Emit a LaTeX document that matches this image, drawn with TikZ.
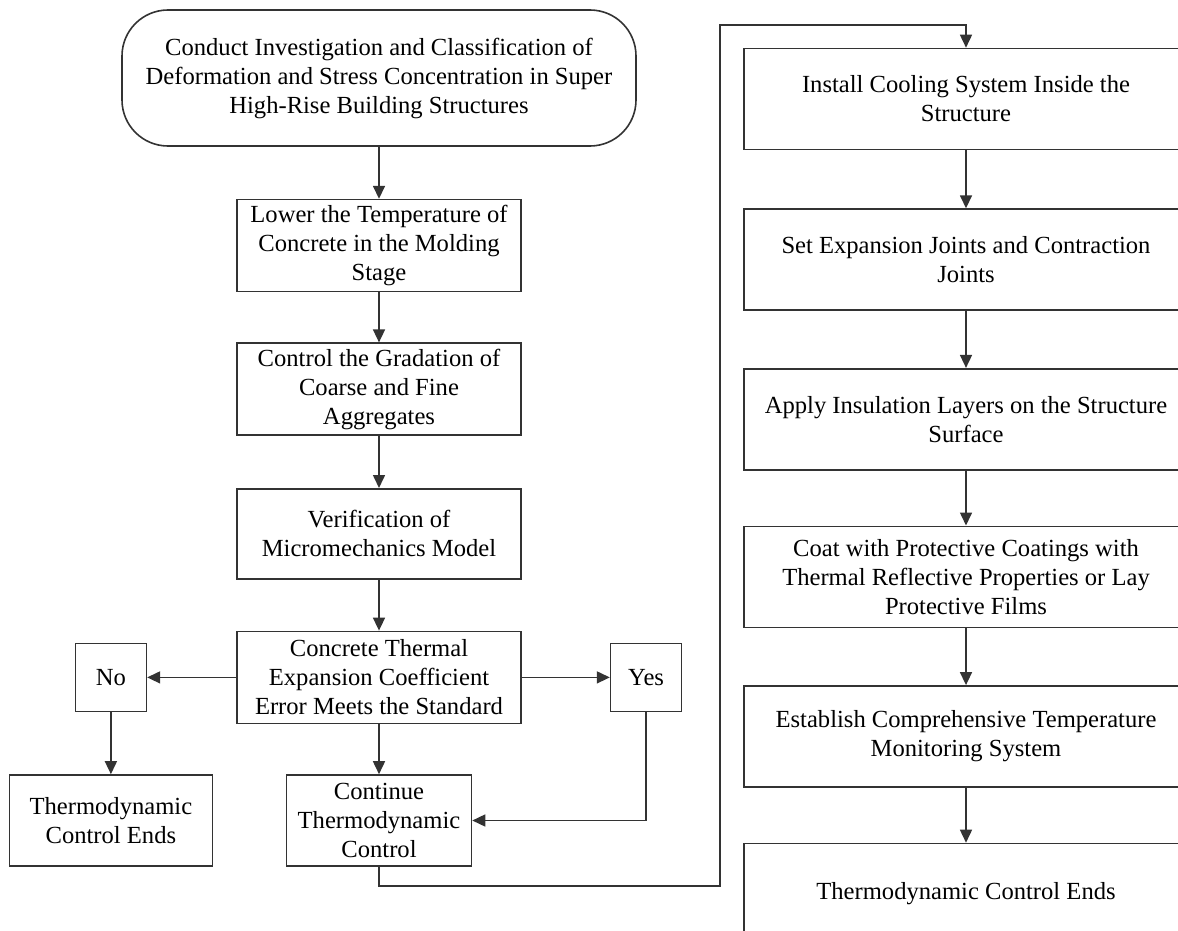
\documentclass[tikz,border=0pt]{standalone}
\usepackage{fontspec}
\setmainfont{Liberation Serif}
\usetikzlibrary{positioning, arrows.meta}

\begin{document}
\begin{tikzpicture}[
  x=1pt, y=1pt,
  font=\fontsize{12.3}{14.5}\selectfont,
  box/.style={draw=black!80, line width=0.8pt, align=center, inner sep=2pt, minimum width=142pt, minimum height=46pt},
  startbox/.style={box, rounded corners=23pt, minimum width=257pt, minimum height=68pt},
  smallbox/.style={box, minimum width=35.5pt, minimum height=34pt},
  endbox/.style={box, minimum width=101.5pt, minimum height=45.5pt},
  stepbox/.style={box, minimum width=222pt, minimum height=50.5pt},
  arrow/.style={-{Triangle[length=6.5pt,width=6pt]}, draw=black!80, line width=0.8pt}
]
\useasboundingbox (0,0) rectangle (589,-465.5);
\clip (0,0) rectangle (589,-465.5);

% ===== Left column =====
\node[startbox] (start) at (189.5,-39)
{Conduct Investigation and Classification of\\
Deformation and Stress Concentration in Super\\
High-Rise Building Structures};

\node[box, below=26pt of start] (lower)
{Lower the Temperature of\\Concrete in the Molding\\Stage};

\node[box, below=25pt of lower] (grade)
{Control the Gradation of\\Coarse and Fine\\Aggregates};

\node[box, below=26pt of grade, minimum height=45pt] (verify)
{Verification of\\Micromechanics Model};

\node[box, below=25.5pt of verify] (check)
{Concrete Thermal\\Expansion Coefficient\\Error Meets the Standard};

\node[smallbox, left=44.5pt of check] (no) {No};
\node[smallbox, right=44pt of check] (yes) {Yes};

\node[endbox, below=31pt of no] (stopleft)
{Thermodynamic\\Control Ends};

\node[box, below=25pt of check, minimum width=92.5pt, minimum height=45.5pt] (cont)
{Continue\\Thermodynamic\\Control};

\draw[arrow] (start) -- (lower);
\draw[arrow] (lower) -- (grade);
\draw[arrow] (grade) -- (verify);
\draw[arrow] (verify) -- (check);
\draw[arrow] (check) -- (no);
\draw[arrow] (check) -- (yes);
\draw[arrow] (no) -- (stopleft);
\draw[arrow] (check) -- (cont);
\draw[arrow] (yes.south) |- (cont.east);

% ===== Right column =====
\node[stepbox] (cool) at (483,-49.5)
{Install Cooling System Inside the\\Structure};

\node[stepbox, below=29pt of cool] (joints)
{Set Expansion Joints and Contraction\\Joints};

\node[stepbox, below=28.5pt of joints] (insul)
{Apply Insulation Layers on the Structure\\Surface};

\node[stepbox, below=27.5pt of insul] (coat)
{Coat with Protective Coatings with\\Thermal Reflective Properties or Lay\\Protective Films};

\node[stepbox, below=28.5pt of coat] (monitor)
{Establish Comprehensive Temperature\\Monitoring System};

\node[stepbox, below=27.5pt of monitor] (stopright)
{Thermodynamic Control Ends};

\draw[arrow] (cool) -- (joints);
\draw[arrow] (joints) -- (insul);
\draw[arrow] (insul) -- (coat);
\draw[arrow] (coat) -- (monitor);
\draw[arrow] (monitor) -- (stopright);

% ===== Link between columns =====
\coordinate (low) at (360,-443);
\coordinate (high) at (360,-12.5);
\draw[arrow] (cont.south) |- (low) -- (high) -| (cool.north);

\end{tikzpicture}
\end{document}
